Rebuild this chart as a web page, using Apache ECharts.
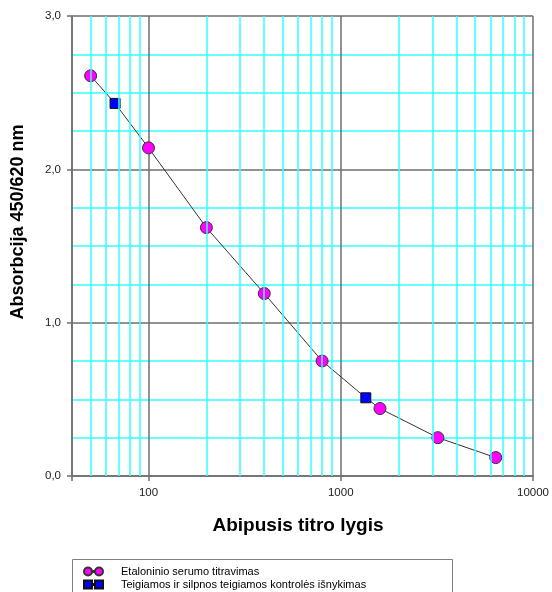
<!DOCTYPE html>
<html>
<head>
<meta charset="utf-8">
<script src="https://cdn.jsdelivr.net/npm/echarts@6/dist/echarts.min.js"></script>
<style>html,body{margin:0;padding:0;background:#fff;}#c{width:552px;height:592px;}</style>
</head>
<body>
<div id="c"></div>
<script>
const titerStd = [50, 100, 200, 400, 800, 1600, 3200, 6400];
const absStd = [2.61, 2.14, 1.62, 1.19, 0.75, 0.44, 0.25, 0.12];
const titerCtrl = [67, 1350];
const absCtrl = [2.43, 0.51];
const minorX = [50, 60, 70, 80, 90, 200, 300, 400, 500, 600, 700, 800, 900, 2000, 3000, 4000, 5000, 6000, 7000, 8000, 9000];
const nameStd = 'Etaloninio serumo titravimas';
const nameCtrl = 'Teigiamos ir silpnos teigiamos kontrolės išnykimas';

const FONT = 'Liberation Sans, Arial, sans-serif';
const stdPts = titerStd.map((t, i) => [t, absStd[i]]);
const ctrlPts = titerCtrl.map((t, i) => [t, absCtrl[i]]);
const allPts = stdPts.concat(ctrlPts).sort((a, b) => a[0] - b[0]);

const legendBase = {
  orient: 'vertical', left: 83, padding: 0,
  itemWidth: 19, itemHeight: 9,
  textStyle: {fontFamily: FONT, fontSize: 11, color: '#000', padding: [0, 0, 0, 13]}
};

const chart = echarts.init(document.getElementById('c'), null, {renderer: 'canvas'});
chart.setOption({
  animation: false,
  textStyle: {fontFamily: FONT},
  grid: {left: 72, right: 19, top: 16, bottom: 116},
  graphic: [{
    type: 'rect', left: 72, top: 559, z: 0,
    shape: {width: 380, height: 40},
    style: {fill: '#fff', stroke: '#808080', lineWidth: 1}
  }],
  xAxis: {
    type: 'log', min: 40, max: 10000, logBase: 10,
    name: 'Abipusis titro lygis', nameLocation: 'middle', nameGap: 40,
    nameTextStyle: {fontFamily: FONT, fontSize: 19, fontWeight: 'bold', color: '#000', padding: [0, 9, 0, 0]},
    axisLine: {show: true, lineStyle: {color: '#6e6e6e', width: 1.5}},
    axisTick: {show: true, length: 5, lineStyle: {color: '#6e6e6e', width: 1.5}},
    axisLabel: {fontFamily: FONT, fontSize: 11.5, color: '#222', margin: 11,
      formatter: v => { const l = Math.log10(v); return Math.abs(l - Math.round(l)) < 1e-6 ? String(Math.round(v)) : ''; }},
    splitLine: {show: true, lineStyle: {color: '#6e6e6e', width: 1.5}},
    minorTick: {show: false}, minorSplitLine: {show: false}
  },
  yAxis: {
    type: 'value', min: 0, max: 3, interval: 1,
    name: 'Absorbcija 450/620 nm', nameLocation: 'middle', nameGap: 45,
    nameTextStyle: {fontFamily: FONT, fontSize: 18, fontWeight: 'bold', color: '#000', padding: [0, 0, 0, 48]},
    axisLine: {show: true, lineStyle: {color: '#6e6e6e', width: 1.5}},
    axisTick: {show: true, length: 5, lineStyle: {color: '#6e6e6e', width: 1.5}},
    axisLabel: {fontFamily: FONT, fontSize: 11.5, color: '#222', margin: 11,
      formatter: v => v.toFixed(1).replace('.', ',')},
    splitLine: {show: true, lineStyle: {color: '#6e6e6e', width: 1.5}},
    minorTick: {show: false, splitNumber: 4},
    minorSplitLine: {show: true, lineStyle: {color: '#33ffff', width: 1.5}}
  },
  legend: [
    Object.assign({}, legendBase, {top: 566, data: [
      {name: nameStd, icon: 'path://M0,4a4,4 0 1,0 8,0a4,4 0 1,0 -8,0Z M8,3.5H11V4.5H8Z M11,4a4,4 0 1,0 8,0a4,4 0 1,0 -8,0Z'}
    ]}),
    Object.assign({}, legendBase, {top: 579, data: [
      {name: nameCtrl, icon: 'path://M0,0H8V8H0Z M8,3.5H11V4.5H8Z M11,0H19V8H11Z'}
    ]})
  ],
  series: [
    {
      type: 'line', name: 'grid', data: [], silent: true, z: 1,
      markLine: {
        silent: true, symbol: 'none', label: {show: false},
        lineStyle: {color: '#33ffff', width: 1.5, type: 'solid'},
        data: minorX.map(v => ({xAxis: v}))
      }
    },
    {
      type: 'line', name: 'curve', data: allPts, showSymbol: false, symbol: 'none', z: 3,
      lineStyle: {color: '#333', width: 1}, silent: true
    },
    {
      type: 'scatter', name: nameStd, data: stdPts, symbol: 'circle', symbolSize: 12, z: 4,
      itemStyle: {color: '#ff00ff', borderColor: '#333', borderWidth: 1, opacity: 1}
    },
    {
      type: 'scatter', name: nameCtrl, data: ctrlPts, symbol: 'rect', symbolSize: 10, z: 4,
      itemStyle: {color: '#0000ff', borderColor: '#111', borderWidth: 1, opacity: 1}
    }
  ]
});
</script>
</body>
</html>
